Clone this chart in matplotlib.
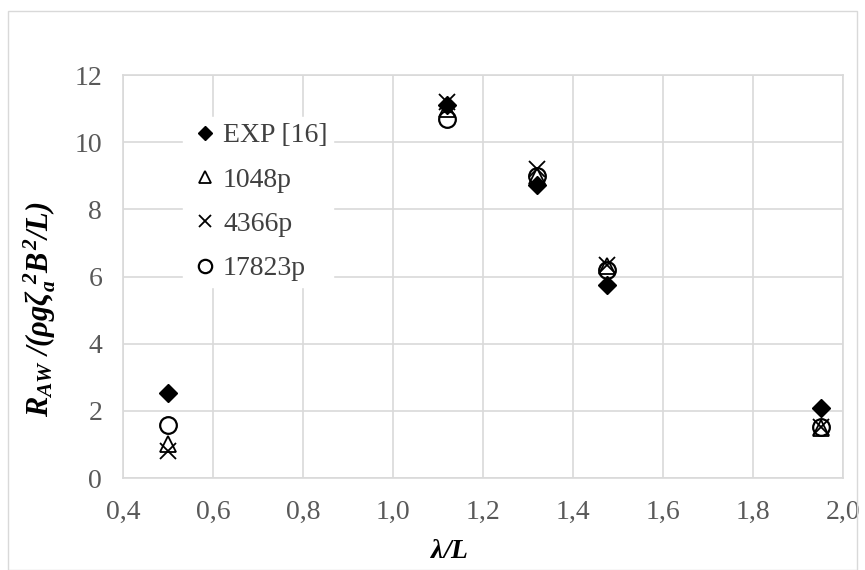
import matplotlib
matplotlib.use('Agg')
import matplotlib.pyplot as plt
from matplotlib.ticker import FuncFormatter, MultipleLocator
from matplotlib.patches import Rectangle

# data
wave_ratio = [0.50, 1.12, 1.32, 1.475, 1.95]
exp16 = [2.53, 11.1, 8.72, 5.75, 2.08]
p1048 = [1.0, 11.0, 9.0, 6.3, 1.5]
p4366 = [0.8, 11.2, 9.2, 6.35, 1.52]
p17823 = [1.58, 10.7, 9.0, 6.2, 1.52]

plt.rcParams['font.family'] = ['Liberation Serif', 'DejaVu Serif']
plt.rcParams['mathtext.fontset'] = 'custom'
plt.rcParams['mathtext.rm'] = 'Liberation Serif:bold:italic'
plt.rcParams['mathtext.it'] = 'Liberation Serif:bold:italic'
plt.rcParams['mathtext.bf'] = 'Liberation Serif:bold:italic'

fig = plt.figure(figsize=(8.65, 5.7), dpi=100)
ax = fig.add_axes([0.1422, 0.1614, 0.8324, 0.707])

# chart border
fig.patches.append(Rectangle((8/865, 0), 849/865, 1 - 11/570, transform=fig.transFigure,
                             fill=False, edgecolor='#d9d9d9', lw=1))

ax.plot(wave_ratio, exp16, 'D', color='black', ms=9, ls='none', label='EXP [16]')
ax.plot(wave_ratio, p1048, '^', mfc='none', mec='black', mew=1.3, ms=11, ls='none', label='1048p')
ax.plot(wave_ratio, p4366, 'x', color='black', mew=1.3, ms=11, ls='none', label='4366p')
ax.plot(wave_ratio, p17823, 'o', mfc='none', mec='black', mew=1.6, ms=12, ls='none', label='17823p')

ax.set_xlim(0.4, 2.0)
ax.set_ylim(0, 12)
ax.xaxis.set_major_locator(MultipleLocator(0.2))
ax.yaxis.set_major_locator(MultipleLocator(2))
ax.xaxis.set_major_formatter(FuncFormatter(lambda v, p: ('%.1f' % v).replace('.', ',')))
ax.yaxis.set_major_formatter(FuncFormatter(lambda v, p: '%d' % round(v)))
ax.grid(True, color='#d9d9d9', lw=1.2)
ax.set_axisbelow(True)
for s in ax.spines.values():
    s.set_color('#d9d9d9')
    s.set_linewidth(1.2)
ax.tick_params(length=0, labelsize=20, colors='#595959')
ax.tick_params(axis='x', pad=16)
ax.tick_params(axis='y', pad=15)

ax.set_xlabel(r'$\lambda/L$', fontsize=20)
ax.xaxis.set_label_coords(0.453, -0.152)
ax.set_ylabel(r'$R_{AW}\ /(\rho g\zeta_a^{\ 2}B^2/L)$', fontsize=22)
ax.yaxis.set_label_coords(-0.09, 0.42)

leg = ax.legend(loc='upper left', bbox_to_anchor=(0.083, 0.895), fontsize=20, frameon=True,
                fancybox=False, edgecolor='white', framealpha=1, handletextpad=0.05,
                handlelength=1.2, borderpad=0.2, labelspacing=0.68, borderaxespad=0,
                markerscale=0.8)
for t in leg.get_texts():
    t.set_color('#404040')

fig.savefig('out.png', dpi=100)
